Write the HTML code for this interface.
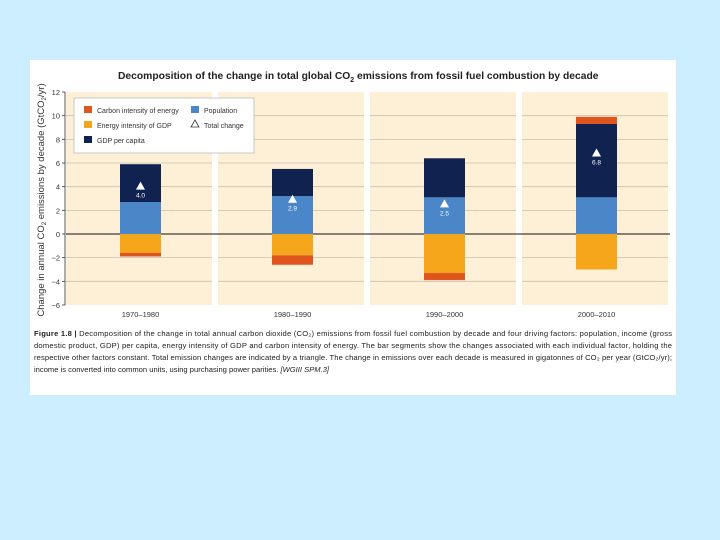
<!DOCTYPE html>
<html><head><meta charset="utf-8"><style>
body{margin:0;background:#cdeeff;width:720px;height:540px;overflow:hidden;font-family:"Liberation Sans",sans-serif}
</style></head><body>
<svg width="720" height="540" style="position:absolute;left:0;top:0">
<rect x="30" y="60" width="646" height="335" fill="#fff"/>
<text x="118" y="79" font-size="10.3" font-weight="bold" fill="#222">Decomposition of the change in total global CO<tspan font-size="7" dy="3">2</tspan><tspan dy="-3"> emissions from fossil fuel combustion by decade</tspan></text>
<g id="plot"></g>
<g id="legend">
<rect x="74" y="98" width="180" height="55" fill="#fff" stroke="#bbb" stroke-width="0.8"/>
<rect x="84" y="106" width="8" height="7" fill="#e0541e"/>
<text x="97" y="113" font-size="7" fill="#333">Carbon intensity of energy</text>
<rect x="84" y="121" width="8" height="7" fill="#f6a61b"/>
<text x="97" y="128" font-size="7" fill="#333">Energy intensity of GDP</text>
<rect x="84" y="136" width="8" height="7" fill="#10224f"/>
<text x="97" y="143" font-size="7" fill="#333">GDP per capita</text>
<rect x="191" y="106" width="8" height="7" fill="#4a86c8"/>
<text x="204" y="113" font-size="7" fill="#333">Population</text>
<polygon points="195,120 199,127 191,127" fill="#fff" stroke="#333" stroke-width="0.8"/>
<text x="204" y="128" font-size="7" fill="#333">Total change</text>
</g>
<text transform="translate(44,200) rotate(-90)" text-anchor="middle" font-size="9.5" fill="#333">Change in annual CO<tspan font-size="6" dy="2">2</tspan><tspan dy="-2"> emissions by decade (GtCO</tspan><tspan font-size="6" dy="2">2</tspan><tspan dy="-2">/yr)</tspan></text>
<g font-size="7.6" fill="#222">
<text x="34" y="336" textLength="638" lengthAdjust="spacing"><tspan font-weight="bold">Figure 1.8 |</tspan> Decomposition of the change in total annual carbon dioxide (CO₂) emissions from fossil fuel combustion by decade and four driving factors: population, income (gross</text>
<text x="34" y="348" textLength="638" lengthAdjust="spacing">domestic product, GDP) per capita, energy intensity of GDP and carbon intensity of energy. The bar segments show the changes associated with each individual factor, holding the</text>
<text x="34" y="360" textLength="638" lengthAdjust="spacing">respective other factors constant. Total emission changes are indicated by a triangle. The change in emissions over each decade is measured in gigatonnes of CO₂ per year (GtCO₂/yr);</text>
<text x="34" y="372">income is converted into common units, using purchasing power parities. <tspan font-style="italic">[WGIII SPM.3]</tspan></text>
</g>
</svg>
<script>
const categories=["1970–1980","1980–1990","1990–2000","2000–2010"];
const population=[2.7,3.2,3.1,3.1];
const gdp=[3.2,2.3,3.3,6.2];
const energy=[-1.6,-1.8,-3.3,-3.0];
const carbon=[-0.3,-0.8,-0.6,0.6];
const total=[4.0,2.9,2.5,6.8];
const totalLabels=["4.0","2.9","2.5","6.8"];
const yTicks=[12,10,8,6,4,2,0,-2,-4,-6];
const NS="http://www.w3.org/2000/svg";
const g=document.getElementById('plot');
const y=v=>234-v*11.83;
const panelX=i=>66+i*152;
const PW=152;
function mk(t,a,p){const e=document.createElementNS(NS,t);for(const k in a)e.setAttribute(k,a[k]);(p||g).appendChild(e);return e;}
categories.forEach((c,i)=>{
 const r=mk('rect',{x:panelX(i),y:y(12),width:PW-6,height:y(-6)-y(12),fill:'#fdf0d7'});
 
 
 yTicks.forEach(t=>{if(t!==12&&t!==-6&&t!==0){const l=mk('line',{x1:panelX(i),x2:panelX(i)+PW-6,y1:y(t),y2:y(t),stroke:'#c8c0b0','stroke-width':0.8});}});
});
const z=mk('line',{x1:66,x2:670,y1:y(0),y2:y(0),stroke:'#111','stroke-width':1});

const ax=mk('line',{x1:65,x2:65,y1:y(12),y2:y(-6),stroke:'#333','stroke-width':0.8});

yTicks.forEach(t=>{
 mk('line',{x1:62,x2:65,y1:y(t),y2:y(t),stroke:'#333','stroke-width':0.8});
 const tx=mk('text',{x:60,y:y(t)+3,'font-size':7.5,'text-anchor':'end',fill:'#333'});tx.textContent=t<0?'−'+(-t):t;
 
});
function seg(i,a,b,col,name){
 const bx=panelX(i)+54;const r=mk('rect',{x:bx,y:y(Math.max(a,b)),width:41,height:Math.abs(y(a)-y(b)),fill:col});
 
}
categories.forEach((c,i)=>{
 let pos=0,neg=0;
 const add=(v,col,n)=>{if(v>=0){seg(i,pos,pos+v,col,n);pos+=v;}else{seg(i,neg,neg+v,col,n);neg+=v;}};
 add(population[i],'#4a86c8','population');
 add(gdp[i],'#10224f','gdp');
 add(energy[i],'#f6a61b','energy');
 add(carbon[i],'#e0541e','carbon');
 const cx=panelX(i)+74.5,ty=y(total[i]);
 const tr=mk('polygon',{points:`${cx},${ty-5} ${cx+4.5},${ty+3} ${cx-4.5},${ty+3}`,fill:'#fff'});
 
 const tl=mk('text',{x:cx,y:ty+11,'font-size':6.5,'text-anchor':'middle',fill:'#fff'});tl.textContent=totalLabels[i];
 
 const cl=mk('text',{x:cx,y:y(-6)+12,'font-size':7.5,'text-anchor':'middle',fill:'#333'});cl.textContent=c;
 
});
g.parentNode.appendChild(document.getElementById('legend'));
</script>
</body></html>
